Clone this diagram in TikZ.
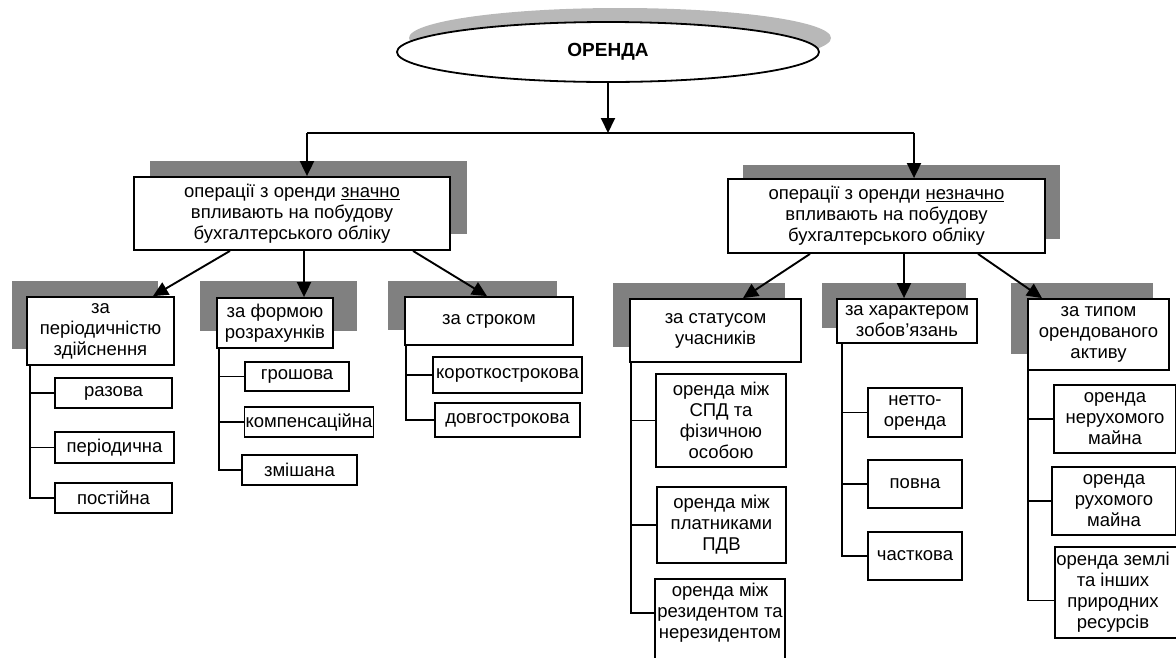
\documentclass[tikz,border=0pt]{standalone}
\usepackage{fontspec}
\setmainfont{Liberation Sans}
\usetikzlibrary{shapes.geometric,arrows.meta}
\begin{document}
\begin{tikzpicture}[x=1pt,y=-1pt,
  txt/.style={font=\fontsize{18.5}{21}\selectfont},
  box/.style={draw, line width=1.8pt, fill=white, align=center, inner sep=1pt, txt},
  shadowbox/.style={fill=black!50},
  link/.style={line width=1.9pt},
  arr/.style={line width=1.9pt, -{Triangle[length=15pt,width=14pt]}}
]
\useasboundingbox (0,0) rectangle (1176,657);
\clip (0,0) rectangle (1176,657);

% top ellipse
\node[ellipse, fill=black!28, minimum width=422, minimum height=60] (Eshadow) at (620,38) {};
\node[ellipse, draw, line width=1.8pt, fill=white, minimum width=422, minimum height=60,
      font=\fontsize{19}{21}\selectfont\bfseries] (E) at (608,52) {ОРЕНДА};

% shadows
\fill[shadowbox] (150,161) rectangle (467,234);
\fill[shadowbox] (743,165) rectangle (1060,239);
\fill[shadowbox] (12,281) rectangle (158,349);
\fill[shadowbox] (200,281) rectangle (357,331);
\fill[shadowbox] (388,281) rectangle (557,330);
\fill[shadowbox] (613,283) rectangle (785,347);
\fill[shadowbox] (822,283) rectangle (966,328);
\fill[shadowbox] (1011,283) rectangle (1153,354);

% level 1
\node[box, minimum width=316, minimum height=73] (L1) at (292,213.5)
  {операції з оренди \underline{значно}\\впливають на побудову\\бухгалтерського обліку};
\node[box, minimum width=317, minimum height=74] (R1) at (886.5,216)
  {операції з оренди \underline{незначно}\\впливають на побудову\\бухгалтерського обліку};

% level 2
\node[box, minimum width=147, minimum height=68] (A1) at (100.5,331) {за\\періодичністю\\здійснення};
\node[box, minimum width=116, minimum height=50] (A2) at (275,323) {за формою\\розрахунків};
\node[box, minimum width=168, minimum height=48] (A3) at (489,321) {за строком};
\node[box, minimum width=171, minimum height=63] (B1) at (715.5,330.5) {за статусом\\учасників};
\node[box, minimum width=140, minimum height=44] (B2) at (907,321) {за характером\\зобов’язань};
\node[box, minimum width=141, minimum height=71] (B3) at (1098.5,334.5) {за типом\\орендованого\\активу};

% level 3
\node[box, minimum width=117, minimum height=30] (a11) at (113.5,393) {разова};
\node[box, minimum width=119, minimum height=31] (a12) at (114.5,447.5) {періодична};
\node[box, minimum width=117, minimum height=30] (a13) at (113.5,498) {постійна};

\node[box, minimum width=104, minimum height=29] (a21) at (297,376.5) {грошова};
\node[box, minimum width=128, minimum height=30] (a22) at (309,422) {компенсаційна};
\node[box, minimum width=115, minimum height=30] (a23) at (299.5,470) {змішана};

\node[box, minimum width=149, minimum height=36] (a31) at (507.5,375) {короткострокова};
\node[box, minimum width=145, minimum height=34] (a32) at (507.5,420) {довгострокова};

\node[box, minimum width=130, minimum height=93] (b11) at (721,420.5) {оренда між\\СПД та\\фізичною\\особою};
\node[box, minimum width=129, minimum height=76] (b12) at (721.5,525) {оренда між\\платниками\\ПДВ};
\node[box, minimum width=130, minimum height=112, anchor=north] (b13) at (720,578) {};
\node[txt, anchor=north, align=center, inner sep=0pt] (b13t) at ([yshift=-5]b13.north)
  {оренда між\\резидентом та\\нерезидентом};

\node[box, minimum width=94, minimum height=49] (b21) at (915,412.5) {нетто-\\оренда};
\node[box, minimum width=94, minimum height=48] (b22) at (915,484) {повна};
\node[box, minimum width=94, minimum height=48] (b23) at (915,556) {часткова};

\node[box, minimum width=122, minimum height=68] (b31) at (1115,419) {оренда\\нерухомого\\майна};
\node[box, minimum width=124, minimum height=68] (b32) at (1114,501) {оренда\\рухомого\\майна};
\node[box, minimum width=125, minimum height=91] (b33) at (1117.5,592.5) {};
\node[txt, align=center, inner sep=0pt] (b33t) at (1113,592.5) {оренда землі\\та інших\\природних\\ресурсів};

% top connectors
\coordinate (hl) at (307,133);
\coordinate (hr) at (914,133);
\draw[arr] (E.south) -- (E.south |- hl);
\draw[link] (hl) -- (hr);
\draw[arr] (hl) -- (hl |- L1.north);
\draw[arr] (hr) -- (hr |- R1.north);

% level 1 -> level 2
\draw[arr] ([xshift=-62]L1.south) -- ([xshift=52.5]A1.north);
\draw[arr] ([xshift=12]L1.south) -- ([xshift=29]A2.north);
\draw[arr] ([xshift=121]L1.south) -- ([xshift=-2]A3.north);
\draw[arr] ([xshift=-76.5]R1.south) -- ([xshift=27.5]B1.north);
\draw[arr] ([xshift=17.5]R1.south) -- ([xshift=-3]B2.north);
\draw[arr] ([xshift=91.5]R1.south) -- ([xshift=-56.5]B3.north);

% buses
\coordinate (busA1) at (30,0);
\coordinate (busA2) at (219,0);
\coordinate (busA3) at (406,0);
\coordinate (busB1) at (631,0);
\coordinate (busB2) at (842,0);
\coordinate (busB3) at (1028,0);

\draw[link] (busA1 |- A1.south) |- (a13.west);
\draw[link] (a11.west) -- (a11.west -| busA1);
\draw[link] (a12.west) -- (a12.west -| busA1);

\draw[link] (busA2 |- A2.south) |- (a23.west);
\draw[link] (a21.west) -- (a21.west -| busA2);
\draw[link] (a22.west) -- (a22.west -| busA2);

\draw[link] (busA3 |- A3.south) |- (a32.west);
\draw[link] (a31.west) -- (a31.west -| busA3);

\draw[link] (busB1 |- B1.south) |- ([yshift=22]b13.west);
\draw[link] (b11.west) -- (b11.west -| busB1);
\draw[link] (b12.west) -- (b12.west -| busB1);

\draw[link] (busB2 |- B2.south) |- (b23.west);
\draw[link] (b21.west) -- (b21.west -| busB2);
\draw[link] (b22.west) -- (b22.west -| busB2);

\draw[link] (busB3 |- B3.south) |- ([yshift=-8]b33.west);
\draw[link] (b31.west) -- (b31.west -| busB3);
\draw[link] (b32.west) -- (b32.west -| busB3);
\end{tikzpicture}
\end{document}
